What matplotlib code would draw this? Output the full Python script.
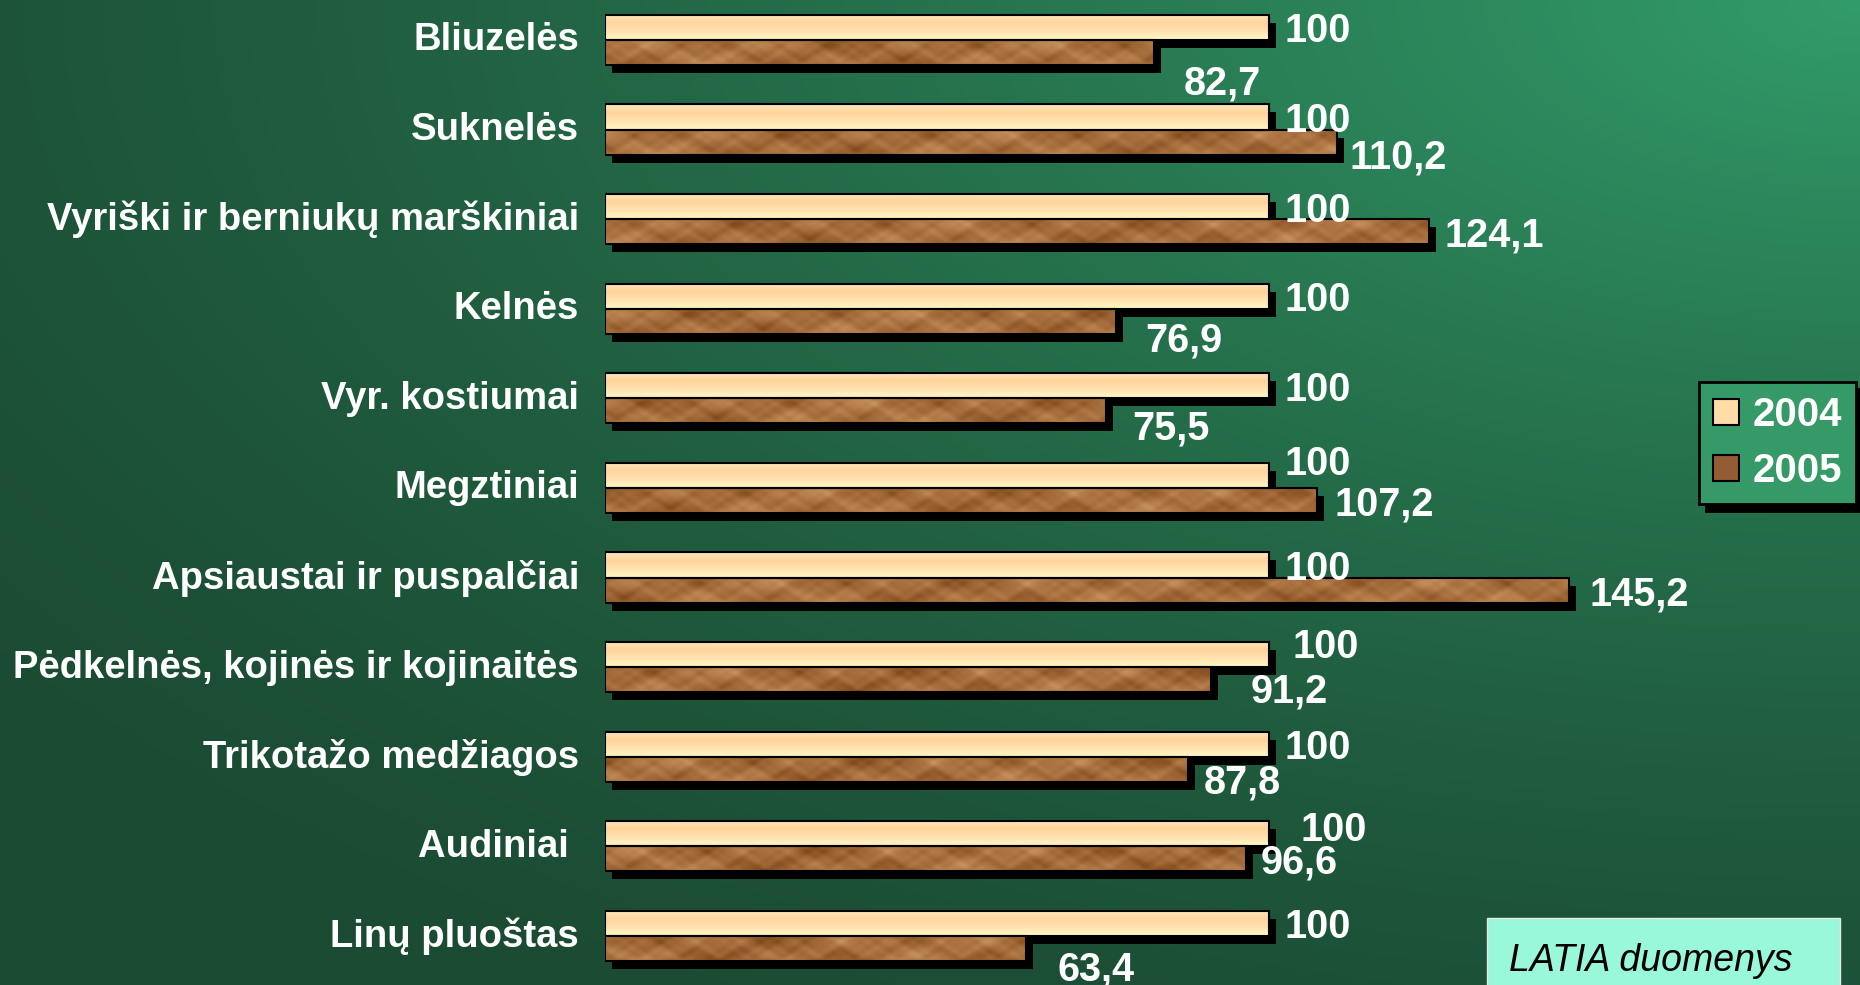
import numpy as np
import matplotlib
matplotlib.use("Agg")
import matplotlib.pyplot as plt
from matplotlib.patches import Patch, Rectangle
from matplotlib.colors import LinearSegmentedColormap, to_rgb
from matplotlib.transforms import ScaledTranslation

plt.rcParams['font.family'] = ['Liberation Sans', 'DejaVu Sans']
plt.rcParams['font.weight'] = 'bold'

categories = ["Bliuzelės", "Suknelės", "Vyriški ir berniukų marškiniai", "Kelnės",
              "Vyr. kostiumai", "Megztiniai", "Apsiaustai ir puspalčiai",
              "Pėdkelnės, kojinės ir kojinaitės", "Trikotažo medžiagos",
              "Audiniai ", "Linų pluoštas"]
years = ["2004", "2005"]
v2004 = [100, 100, 100, 100, 100, 100, 100, 100, 100, 100, 100]
v2005 = [82.7, 110.2, 124.1, 76.9, 75.5, 107.2, 145.2, 91.2, 87.8, 96.6, 63.4]
source = "LATIA duomenys"

# label offsets in points (the slide placed them by hand)
off2004 = [(11, 0), (11, 0), (11, 0), (11, 0), (11, 0), (11, 11), (11, 0),
           (17, 8.5), (11, 0), (23, 6), (11, 0)]
off2005 = [(21, -19.6), (9.4, -8.5), (11, 0), (21, -10.7), (19, -9.8), (13, 0),
           (14.5, 0), (29, -5.5), (11, -6.4), (10, 0), (23, -12)]

W, H = 1860, 985
fig = plt.figure(figsize=(W / 100, H / 100), dpi=100)

# background gradient, bright top right, dark elsewhere
bg = fig.add_axes([0, 0, 1, 1], zorder=-1)
gx, gy = np.meshgrid(np.linspace(0, W, 372), np.linspace(0, H, 197))
d = np.sqrt(((W - gx) / 2.0) ** 2 + gy ** 2)
t = (np.clip(1 - d / 1200, 0, 1) ** 1.5)[..., None]
dark = np.array(to_rgb("#1b4c33"))
light = np.array(to_rgb("#329c6a"))
bg.imshow(dark + t * (light - dark), extent=[0, 1, 0, 1], aspect='auto', interpolation='bilinear')
bg.axis('off')

ax = fig.add_axes([605 / W, 0, 996 / W, 1])
ax.patch.set_alpha(0)
for s in ax.spines.values():
    s.set_visible(False)

pos = np.arange(len(categories))
h = 0.28
y1 = pos - h / 2
y2 = pos + h / 2

shadow = ax.transData + ScaledTranslation(0.07, -0.08, fig.dpi_scale_trans)
ax.barh(y1, v2004, height=h, color='black', transform=shadow, zorder=1)
ax.barh(y2, v2005, height=h, color='black', transform=shadow, zorder=1)
b1 = ax.barh(y1, v2004, height=h, color='#ffe0a8', zorder=2)
b2 = ax.barh(y2, v2005, height=h, color='#a06a3c', zorder=2)

# fills: peach gradient and a blotchy wood-like texture
peach = LinearSegmentedColormap.from_list('p', ['#ffe6bc', '#ffd49c', '#ffe2b0', '#fff8c8'])
wood = LinearSegmentedColormap.from_list('w', ['#80491c', '#9c6434', '#b27a48', '#c69460'])
for r in b1:
    x0, yy0, w, hh = r.get_x(), r.get_y(), r.get_width(), r.get_height()
    g = np.linspace(0, 1, 40)[:, None] * np.ones((1, 4))
    ax.imshow(g, cmap=peach, extent=[x0, x0 + w, yy0, yy0 + hh], origin='lower',
              aspect='auto', zorder=2.2, interpolation='bilinear')
for k, r in enumerate(b2):
    x0, yy0, w, hh = r.get_x(), r.get_y(), r.get_width(), r.get_height()
    X, Y = np.meshgrid(np.linspace(0, w, int(w * 4)) + 7 * k, np.linspace(0, 1, 16))
    n = (np.sin(0.31 * X) * np.sin(4 * Y + 1) + 0.7 * np.sin(0.83 * X + 2) * np.sin(7 * Y)
         + 0.5 * np.sin(1.7 * X + 1) * np.sin(11 * Y + 2) + 0.4 * np.sin(0.12 * X)
         + 0.3 * np.sin(2.9 * X + 0.5) * np.sin(15 * Y + 1))
    n = (n - n.min()) / (n.max() - n.min())
    ax.imshow(n, cmap=wood, extent=[x0, x0 + w, yy0, yy0 + hh], origin='lower',
              aspect='auto', zorder=2.2, interpolation='bicubic')
ax.barh(y1, v2004, height=h, fill=False, edgecolor='black', linewidth=1.5, zorder=3)
ax.barh(y2, v2005, height=h, fill=False, edgecolor='black', linewidth=1.5, zorder=3)

def fmt(v):
    return f"{v:g}".replace('.', ',')

for i in range(len(categories)):
    ax.annotate(fmt(v2004[i]), (v2004[i], y1[i]), xytext=off2004[i], textcoords='offset points',
                ha='left', va='center_baseline', color='white', fontsize=28.5, annotation_clip=False)
    ax.annotate(fmt(v2005[i]), (v2005[i], y2[i]), xytext=off2005[i], textcoords='offset points',
                ha='left', va='center_baseline', color='white', fontsize=28.5, annotation_clip=False)

ax.set_xlim(0, 150)
ax.set_ylim(10.547, -0.446)
ax.set_xticks([])
ax.set_yticks(pos, labels=categories)
ax.tick_params(axis='y', length=0, pad=18.7, labelsize=27.5, labelcolor='white')
for lbl in ax.get_yticklabels():
    lbl.set_transform(lbl.get_transform() + ScaledTranslation(0, 0.035, fig.dpi_scale_trans))

handles = [Patch(facecolor='#ffdca8', edgecolor='black', linewidth=1.5),
           Patch(facecolor='#935c32', edgecolor='black', linewidth=1.5)]
leg = ax.legend(handles, years, loc='upper left', bbox_to_anchor=(1699 / W, 1 - 382 / H),
                bbox_transform=fig.transFigure, borderaxespad=0, fancybox=False,
                facecolor='#359a68', edgecolor='black', framealpha=1,
                shadow={'ox': 5, 'oy': -5, 'shade': 1.0, 'alpha': 1},
                prop={'size': 29, 'weight': 'bold'}, labelcolor='white',
                handlelength=0.65, handleheight=0.62, handletextpad=0.32,
                borderpad=0.35, labelspacing=0.45)
leg.get_frame().set_linewidth(2)

# source box, bottom right
fig.patches.append(Rectangle((1487 / W, -0.02), (1840 - 1487) / W, (H - 918) / H + 0.02,
                             transform=fig.transFigure, facecolor='#99f8d9',
                             edgecolor='#e8e8e8', linewidth=1))
fig.text(1509 / W, (H - 971) / H, source, fontsize=27, fontstyle='italic',
         fontweight='normal', color='black', ha='left', va='baseline')

fig.savefig("out.png", dpi=100)
